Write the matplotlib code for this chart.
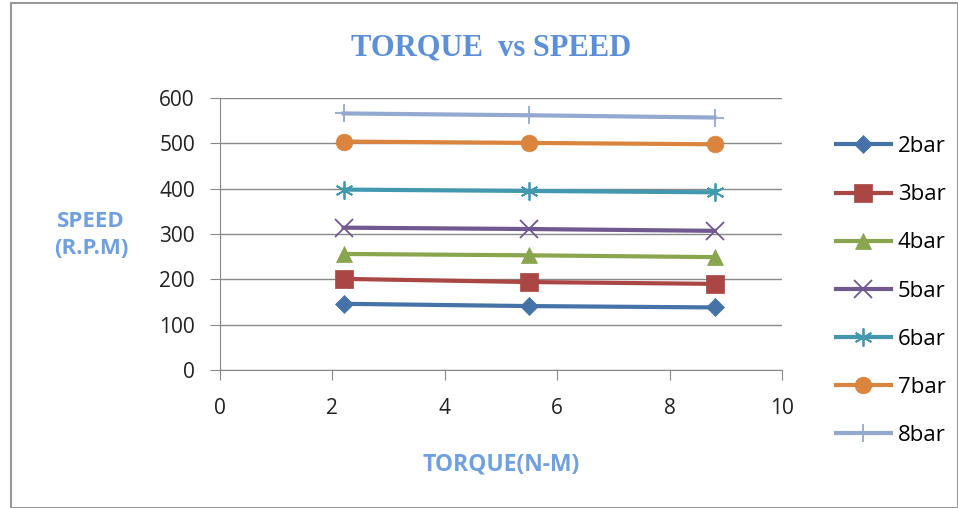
import numpy as np
import matplotlib.pyplot as plt
from matplotlib.patches import Rectangle

torque = [2.2, 5.5, 8.8]
labels = ['2bar', '3bar', '4bar', '5bar', '6bar', '7bar', '8bar']
speeds = [
    [146, 141, 138],
    [201, 194, 190],
    [256, 253, 249],
    [314, 311, 307],
    [398, 395, 392],
    [504, 501, 498],
    [566, 562, 557],
]
colors = ['#4572A7', '#AA4643', '#89A54E', '#71588F', '#4198AF', '#DB843D', '#93A9CF']
markers = ['D', 's', '^', 'x', (6, 2, 0), 'o', '+']
msizes = [9, 13, 12, 13, 13, 12, 13]

plt.rcParams['font.family'] = ['Open Sans', 'DejaVu Sans']

fig = plt.figure(figsize=(9.58, 5.08), dpi=100)
ax = fig.add_axes([0.2296, 0.2717, 0.5867, 0.5353])

for y, lab, c, m, ms in zip(speeds, labels, colors, markers, msizes):
    ax.plot(torque, y, color=c, lw=3, marker=m, markersize=ms,
            markeredgewidth=1.3 if m in ('x', '+') or isinstance(m, tuple) else 0.5,
            markeredgecolor=c, label=lab)

ax.set_xlim(0, 10)
ax.set_ylim(0, 600)
ax.set_xticks(range(0, 11, 2))
ax.set_yticks(range(0, 601, 100))
ax.grid(axis='y', color='#888888', lw=1)
ax.set_axisbelow(True)
for s in ['top', 'right']:
    ax.spines[s].set_visible(False)
for s in ['left', 'bottom']:
    ax.spines[s].set_color('#888888')
ax.tick_params(colors='#888888', labelcolor='#222222', labelsize=15, length=7, direction='out')
ax.tick_params(axis='x', pad=13)
ax.tick_params(axis='y', pad=11)

fig.text(0.513, 0.905, 'TORQUE  vs SPEED', ha='center', va='center',
         family='Liberation Serif', weight='bold', fontsize=22, color='#5B8FD8')
fig.text(0.095, 0.537, 'SPEED\n(R.P.M)', ha='center', va='center', fontsize=16,
         weight='bold', color='#6FA0E0', linespacing=1.35)
fig.text(0.523, 0.085, 'TORQUE(N-M)', ha='center', va='center', fontsize=16.5,
         weight='bold', color='#6FA0E0')

fig.legend(loc='center left', bbox_to_anchor=(0.863, 0.427), frameon=False,
           fontsize=16, labelspacing=1.22, handlelength=2.5, handletextpad=0.3,
           borderaxespad=0)

fig.patches.append(Rectangle((0.011, 0.0), 0.989, 0.995, transform=fig.transFigure,
                             fill=False, edgecolor='#999999', lw=1.5))

fig.savefig('out.png')
